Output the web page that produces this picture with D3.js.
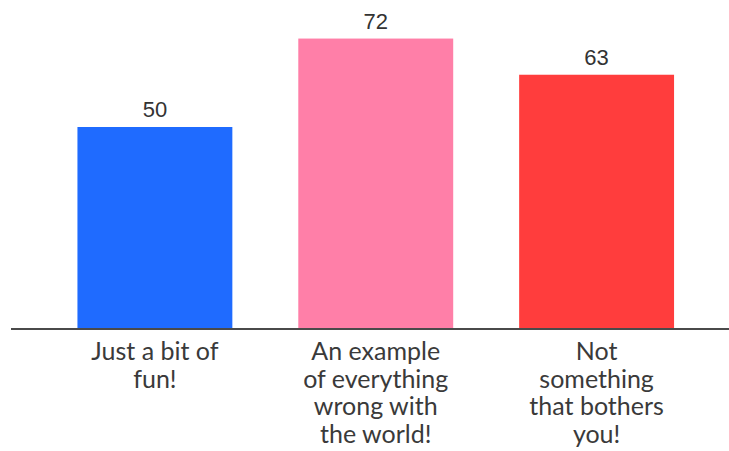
<!DOCTYPE html>
<html><head><meta charset="utf-8">
<script src="https://cdn.jsdelivr.net/npm/d3@7"></script>
<style>body{margin:0;background:#fff}svg{display:block}</style>
</head><body>
<svg id="chart" width="729" height="451"></svg>
<script>
const categories = ["Just a bit of\nfun!", "An example\nof everything\nwrong with\nthe world!", "Not\nsomething\nthat bothers\nyou!"];
const values = [50, 72, 63];
const colors = ["#1f6bff", "#ff7fa8", "#ff3d3d"];

const svg = d3.select("#chart");
const baseline = 328;

const x = d3.scaleBand().domain(categories).range([11.5, 740]).paddingInner(0.2986).paddingOuter(0.2986);
const y = d3.scaleLinear().domain([0, 100]).range([baseline, baseline - 402]);

const g = svg.append("g");
g.selectAll("rect.bar").data(values).join("rect")
  .attr("class", "bar")
  .attr("x", (d, i) => x(categories[i]))
  .attr("width", x.bandwidth())
  .attr("y", d => y(d))
  .attr("height", d => y(0) - y(d))
  .attr("fill", (d, i) => colors[i]);

g.selectAll("text.val").data(values).join("text")
  .attr("class", "val")
  .attr("x", (d, i) => x(categories[i]) + x.bandwidth() / 2)
  .attr("y", d => y(d) - 10)
  .attr("text-anchor", "middle")
  .attr("font-family", "Liberation Sans, Arial, sans-serif")
  .attr("font-size", 22)
  .attr("fill", "#333")
  .text(d => d);

g.append("line")
  .attr("x1", 11).attr("x2", 729)
  .attr("y1", y(0) + 1).attr("y2", y(0) + 1)
  .attr("stroke", "#4a4a4a").attr("stroke-width", 2);

const labels = g.selectAll("text.cat").data(categories).join("text")
  .attr("class", "cat")
  .attr("text-anchor", "middle")
  .attr("font-family", "Lato, sans-serif")
  .attr("font-size", 25)
  .attr("fill", "#3a3a3a");
labels.each(function(d) {
  const t = d3.select(this);
  d.split("\n").forEach((line, j) => {
    t.append("tspan")
      .attr("x", x(d) + x.bandwidth() / 2)
      .attr("y", 360 + j * 27.7)
      .text(line);
  });
});
</script>
</body></html>
